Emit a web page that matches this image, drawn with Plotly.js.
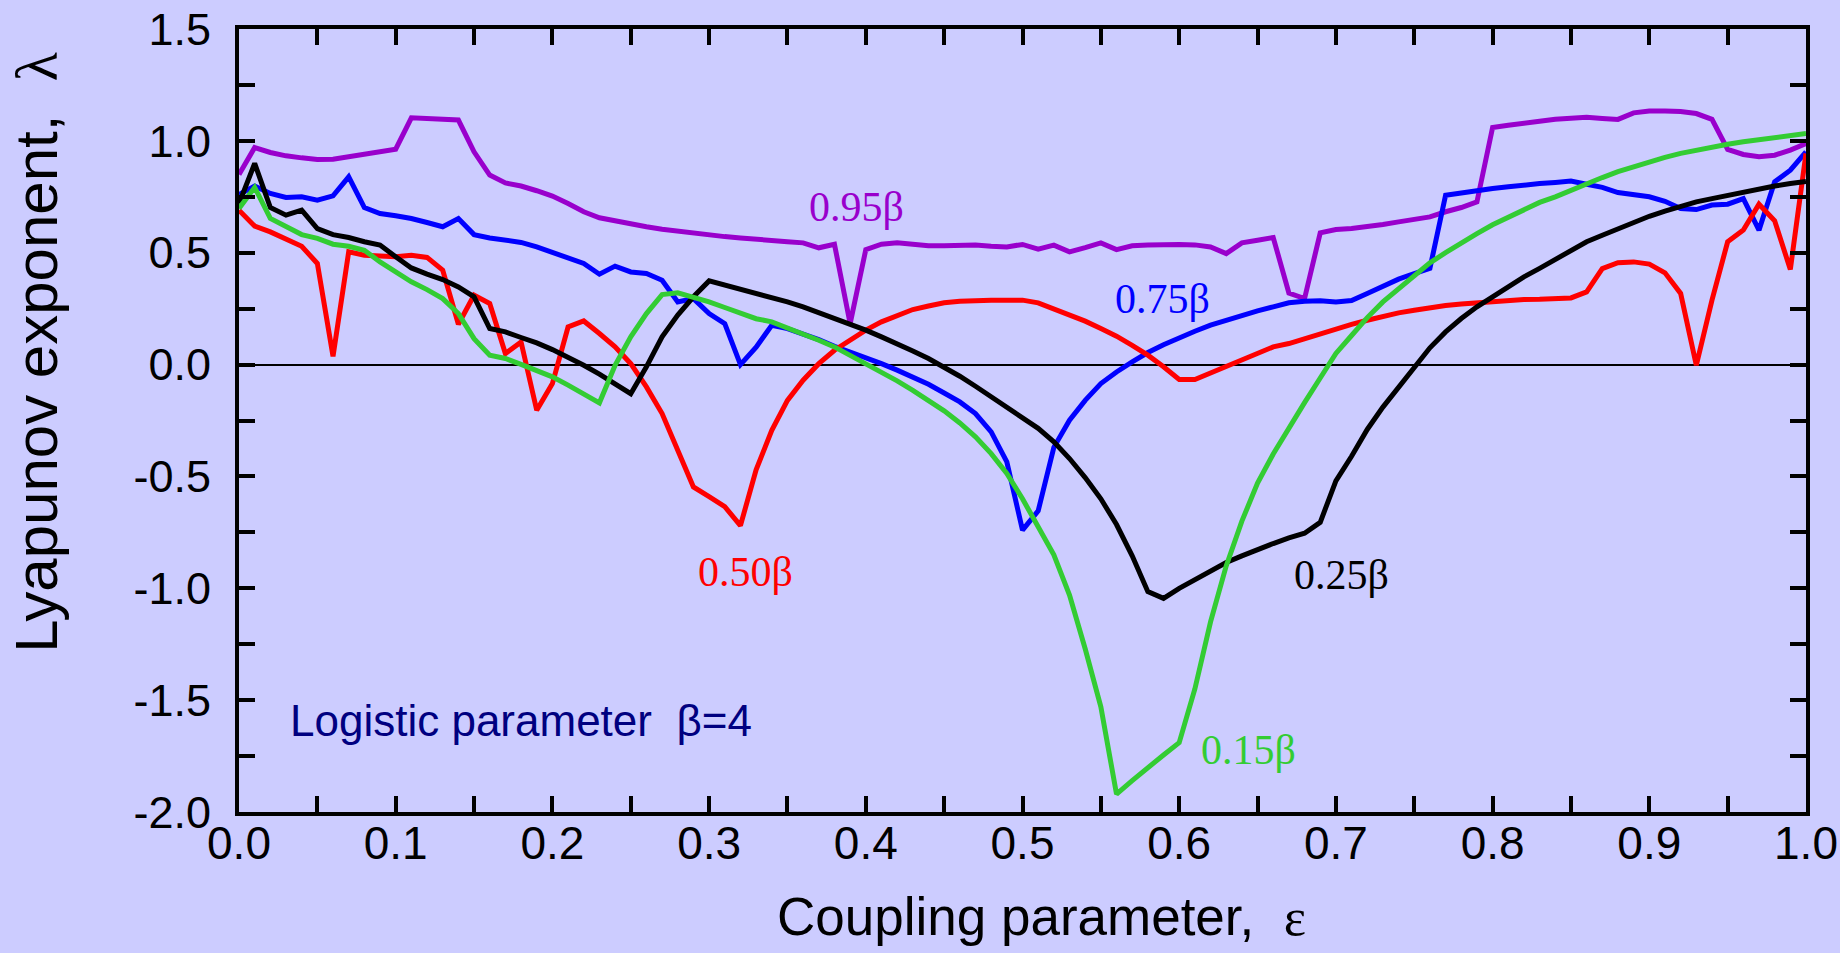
<!DOCTYPE html>
<html><head><meta charset="utf-8">
<script src="https://cdn.plot.ly/plotly-3.0.1.min.js"></script>
<style>html,body{margin:0;padding:0;background:#CCCCFF;}#chart{width:1840px;height:953px;}</style>
</head><body><div id="chart"></div>
<script>
// Coupling parameter grid (epsilon)
const eps = [0.00,0.01,0.02,0.03,0.04,0.05,0.06,0.07,0.08,0.09,
 0.10,0.11,0.12,0.13,0.14,0.15,0.16,0.17,0.18,0.19,
 0.20,0.21,0.22,0.23,0.24,0.25,0.26,0.27,0.28,0.29,
 0.30,0.31,0.32,0.33,0.34,0.35,0.36,0.37,0.38,0.39,
 0.40,0.41,0.42,0.43,0.44,0.45,0.46,0.47,0.48,0.49,
 0.50,0.51,0.52,0.53,0.54,0.55,0.56,0.57,0.58,0.59,
 0.60,0.61,0.62,0.63,0.64,0.65,0.66,0.67,0.68,0.69,
 0.70,0.71,0.72,0.73,0.74,0.75,0.76,0.77,0.78,0.79,
 0.80,0.81,0.82,0.83,0.84,0.85,0.86,0.87,0.88,0.89,
 0.90,0.91,0.92,0.93,0.94,0.95,0.96,0.97,0.98,0.99,1.00];

// Lyapunov exponent, 0.95 beta (purple)
const lam095 = [0.85,0.97,0.948,0.933,0.924,0.917,0.918,0.929,0.941,0.956,
 0.963,1.103,1.100,1.099,1.093,0.951,0.847,0.812,0.798,0.777,
 0.753,0.720,0.683,0.656,0.641,0.628,0.616,0.605,0.596,0.587,
 0.580,0.572,0.566,0.559,0.553,0.549,0.544,0.522,0.538,0.183,
 0.514,0.538,0.544,0.537,0.531,0.531,0.534,0.534,0.529,0.526,
 0.537,0.516,0.534,0.504,0.523,0.544,0.514,0.531,0.534,0.537,
 0.537,0.535,0.526,0.496,0.544,0.556,0.568,0.320,0.295,0.589,
 0.604,0.608,0.616,0.626,0.638,0.650,0.660,0.683,0.702,0.727,
 1.060,1.070,1.081,1.088,1.097,1.103,1.105,1.100,1.096,1.125,
 1.133,1.133,1.131,1.122,1.096,0.962,0.939,0.929,0.936,0.959,0.988];

// Lyapunov exponent, 0.75 beta (blue)
const lam075 = [0.76,0.798,0.765,0.747,0.750,0.735,0.754,0.839,0.702,0.675,
 0.665,0.653,0.635,0.616,0.653,0.581,0.566,0.556,0.546,0.526,
 0.501,0.474,0.452,0.404,0.440,0.414,0.407,0.377,0.280,0.295,
 0.228,0.183,0.000,0.078,0.176,0.161,0.139,0.112,0.082,0.057,
 0.031,0.004,-0.025,-0.055,-0.088,-0.127,-0.167,-0.219,-0.301,-0.435,
 -0.740,-0.654,-0.370,-0.249,-0.160,-0.085,-0.033,0.012,0.054,0.089,
 0.121,0.149,0.176,0.198,0.221,0.240,0.258,0.276,0.283,0.285,
 0.280,0.286,0.318,0.350,0.382,0.407,0.430,0.757,0.768,0.780,
 0.787,0.795,0.804,0.809,0.814,0.820,0.806,0.792,0.769,0.757,
 0.750,0.730,0.698,0.693,0.713,0.717,0.742,0.601,0.817,0.869,0.951];

// Lyapunov exponent, 0.50 beta (red)
const lam050 = [0.690,0.619,0.593,0.564,0.529,0.452,0.037,0.504,0.489,0.485,
 0.482,0.489,0.479,0.422,0.180,0.310,0.273,0.049,0.101,-0.204,
 -0.085,0.168,0.195,0.139,0.079,0.004,-0.100,-0.219,-0.383,-0.547,
 -0.590,-0.635,-0.720,-0.470,-0.294,-0.160,-0.070,0.004,0.064,0.112,
 0.154,0.191,0.221,0.246,0.262,0.276,0.283,0.288,0.288,0.288,
 0.288,0.276,0.250,0.224,0.194,0.161,0.127,0.086,0.042,-0.010,
 -0.067,-0.067,-0.037,-0.007,0.022,0.052,0.079,0.094,0.116,0.139,
 0.160,0.180,0.198,0.216,0.231,0.243,0.255,0.264,0.271,0.277,
 0.283,0.288,0.291,0.292,0.295,0.298,0.325,0.429,0.455,0.459,
 0.449,0.410,0.318,-0.003,0.288,0.549,0.601,0.717,0.643,0.425,0.944];

// Lyapunov exponent, 0.25 beta (black)
const lam025 = [0.72,0.899,0.702,0.668,0.690,0.608,0.581,0.568,0.549,0.534,
 0.482,0.432,0.404,0.380,0.347,0.303,0.161,0.146,0.121,0.097,
 0.067,0.034,-0.003,-0.043,-0.085,-0.130,-0.010,0.124,0.221,0.303,
 0.374,0.355,0.337,0.318,0.303,0.280,0.258,0.233,0.206,0.179,
 0.154,0.124,0.094,0.061,0.027,-0.010,-0.052,-0.097,-0.145,-0.190,
 -0.235,-0.285,-0.345,-0.420,-0.505,-0.600,-0.715,-0.855,-1.015,-1.045,
 -1.000,-0.960,-0.920,-0.885,-0.855,-0.825,-0.800,-0.775,-0.754,-0.705,
 -0.520,-0.410,-0.290,-0.190,-0.100,-0.010,0.075,0.146,0.206,0.258,
 0.303,0.347,0.392,0.430,0.470,0.511,0.549,0.578,0.608,0.638,
 0.663,0.686,0.708,0.727,0.742,0.757,0.772,0.786,0.798,0.809,0.818];

// Lyapunov exponent, 0.15 beta (green)
const lam015 = [0.698,0.792,0.653,0.619,0.581,0.564,0.538,0.529,0.511,0.459,
 0.414,0.370,0.335,0.295,0.228,0.116,0.042,0.027,0.001,-0.025,
 -0.055,-0.092,-0.130,-0.171,-0.003,0.124,0.228,0.313,0.321,0.303,
 0.280,0.255,0.228,0.205,0.191,0.164,0.139,0.109,0.079,0.042,
 0.004,-0.033,-0.073,-0.115,-0.160,-0.207,-0.261,-0.323,-0.398,-0.487,
 -0.600,-0.720,-0.850,-1.030,-1.270,-1.530,-1.920,-1.860,-1.800,-1.745,
 -1.690,-1.450,-1.150,-0.900,-0.700,-0.530,-0.400,-0.280,-0.170,-0.060,
 0.050,0.130,0.210,0.280,0.340,0.400,0.455,0.500,0.545,0.585,
 0.625,0.660,0.695,0.725,0.750,0.780,0.809,0.836,0.862,0.884,
 0.906,0.926,0.944,0.959,0.973,0.985,0.996,1.006,1.015,1.024,1.033];

// Tick positions and labels
const xTickVals = [0,0.05,0.1,0.15,0.2,0.25,0.3,0.35,0.4,0.45,0.5,0.55,0.6,0.65,0.7,0.75,0.8,0.85,0.9,0.95,1.0];
const xTickText = ['0.0','','0.1','','0.2','','0.3','','0.4','','0.5','','0.6','','0.7','','0.8','','0.9','','1.0'];
const yTickVals = [-2,-1.75,-1.5,-1.25,-1,-0.75,-0.5,-0.25,0,0.25,0.5,0.75,1,1.25,1.5];
const yTickText = ['-2.0','','-1.5','','-1.0','','-0.5','','0.0','','0.5','','1.0','','1.5'];

const seriesNames = ['0.95β','0.75β','0.50β','0.25β','0.15β'];
const seriesColors = ['#9900CC','#0000FF','#FF0000','#000000','#33CC33'];
const seriesData = [lam095, lam075, lam050, lam025, lam015];

const traces = seriesData.map((ys, i) => ({
  x: eps, y: ys, type: 'scatter', mode: 'lines', name: seriesNames[i],
  line: {color: seriesColors[i], width: 5}, hoverinfo: 'skip', showlegend: false
}));

const sans = 'Liberation Sans, Arial, sans-serif';
const serif = 'Liberation Serif, Times New Roman, serif';

const layout = {
  width: 1840, height: 953,
  paper_bgcolor: '#CCCCFF', plot_bgcolor: '#CCCCFF',
  margin: {l: 239, r: 34, t: 29, b: 141, pad: 0},
  showlegend: false,
  font: {family: sans, color: '#000000'},
  xaxis: {
    range: [0, 1], tickmode: 'array', tickvals: xTickVals, ticktext: xTickText,
    ticks: 'inside', ticklen: 16, tickwidth: 4, tickcolor: '#000',
    showline: true, linewidth: 4, linecolor: '#000', mirror: 'ticks',
    showgrid: false, zeroline: false, automargin: false,
    tickfont: {family: sans, size: 46, color: '#000'}, ticklabelstandoff: -12
  },
  yaxis: {
    range: [-2, 1.5], tickmode: 'array', tickvals: yTickVals, ticktext: yTickText,
    ticks: 'inside', ticklen: 16, tickwidth: 4, tickcolor: '#000',
    showline: true, linewidth: 4, linecolor: '#000', mirror: 'ticks',
    showgrid: false, zeroline: true, zerolinecolor: '#000', zerolinewidth: 2, automargin: false,
    tickfont: {family: sans, size: 45, color: '#000'}, ticklabelstandoff: 15
  },
  annotations: [
    {xref: 'paper', yref: 'paper', x: 0.5121, y: -0.133, xanchor: 'center', yanchor: 'middle', showarrow: false,
     text: 'Coupling parameter,  <span style="font-family:Liberation Serif">ε</span>', font: {family: sans, size: 53, color: '#000'}},
    {xref: 'paper', yref: 'paper', x: -0.129, y: 0.5875, xanchor: 'center', yanchor: 'middle', showarrow: false, textangle: -90,
     text: 'Lyapunov exponent,  <span style="font-family:Liberation Serif">λ</span>', font: {family: sans, size: 60, color: '#000'}},
    {xref: 'x', yref: 'y', x: 0.394, y: 0.705, showarrow: false, text: seriesNames[0], font: {family: serif, size: 42, color: seriesColors[0]}},
    {xref: 'x', yref: 'y', x: 0.5896, y: 0.292, showarrow: false, text: seriesNames[1], font: {family: serif, size: 42, color: seriesColors[1]}},
    {xref: 'x', yref: 'y', x: 0.3234, y: -0.929, showarrow: false, text: seriesNames[2], font: {family: serif, size: 42, color: seriesColors[2]}},
    {xref: 'x', yref: 'y', x: 0.7033, y: -0.941, showarrow: false, text: seriesNames[3], font: {family: serif, size: 42, color: seriesColors[3]}},
    {xref: 'x', yref: 'y', x: 0.644, y: -1.724, showarrow: false, text: seriesNames[4], font: {family: serif, size: 42, color: seriesColors[4]}},
    {xref: 'x', yref: 'y', x: 0.0315, y: -1.59, xanchor: 'left', showarrow: false,
     text: 'Logistic parameter  β=4', font: {family: sans, size: 44, color: '#000080'}}
  ]
};

Plotly.newPlot('chart', traces, layout, {displayModeBar: false, staticPlot: true});
</script>
</body></html>
